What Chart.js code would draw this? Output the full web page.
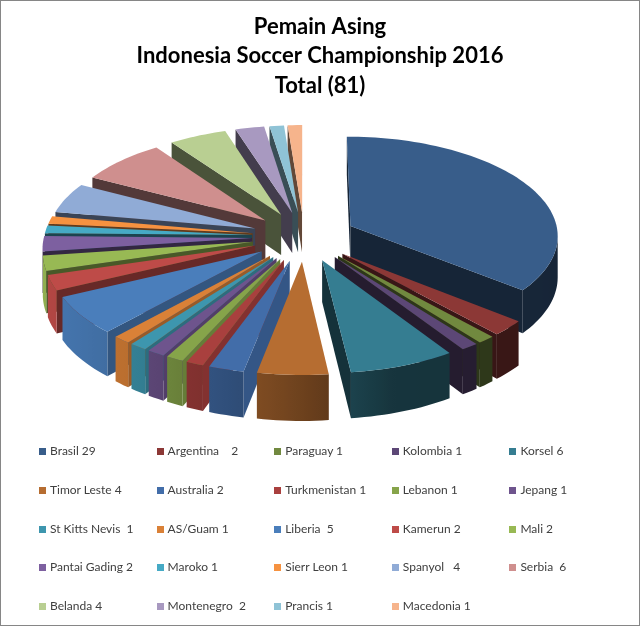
<!DOCTYPE html>
<html>
<head>
<meta charset="utf-8">
<title>Pemain Asing</title>
<script src="https://cdn.jsdelivr.net/npm/chart.js@4"></script>
<style>
body { margin: 0; background: #fff; }
#wrap { position: relative; width: 640px; height: 626px; overflow: hidden; }
#frame { position: absolute; left: 0; top: 0; width: 640px; height: 626px; box-sizing: border-box;
  border: 1px solid #868686; pointer-events: none; }
canvas { position: absolute; left: 0; top: 0; }
.item { position: absolute; font: 12px Lato, sans-serif; color: #404040; white-space: pre; line-height: 14px; }
.box { position: absolute; width: 7px; height: 7px; }
</style>
</head>
<body>
<div id="wrap">
<canvas id="myChart" width="640" height="626"></canvas>
<div id="legend"></div>
<div id="frame"></div>
</div>
<script>
const titleLines = ["Pemain Asing", "Indonesia Soccer Championship 2016", "Total (81)"];
const categories = ["Brasil", "Argentina", "Paraguay", "Kolombia", "Korsel", "Timor Leste", "Australia", "Turkmenistan",
  "Lebanon", "Jepang", "St Kitts Nevis", "AS/Guam", "Liberia", "Kamerun", "Mali", "Pantai Gading", "Maroko",
  "Sierr Leon", "Spanyol", "Serbia", "Belanda", "Montenegro", "Prancis", "Macedonia"];
const players = [29, 2, 1, 1, 6, 4, 2, 1, 1, 1, 1, 1, 5, 2, 2, 2, 1, 1, 4, 6, 4, 2, 1, 1];
// gap between name and number, the original legend is not consistent
const gaps = [" ", "    ", " ", " ", " ", " ", " ", " ", " ", " ", "  ", " ", "  ", " ", " ", " ", " ", " ", "   ", "  ", " ", "  ", " ", " "];
const colors = ["#385D8A", "#8C3836", "#71893F", "#5C4776", "#357D91", "#B66D31", "#426DA9", "#A9403E",
  "#86A44A", "#6E548D", "#3D96AE", "#DA8137", "#4A7EBB", "#BE4B48", "#98B954", "#7D60A0", "#46AAC5",
  "#F69240", "#90ABD6", "#CF8F8E", "#B9CF92", "#A899C0", "#8FC3D6", "#F6B48C"];

// view of the tilted pie
const cx = 304, cy = 236.5, tilt = 0.475, eye = 2400, depth = 41;

function project(x, y, z) {
  const s = eye / (eye - y);
  return [cx + x * s, cy + tilt * y * s + z * s];
}

function shade(hex, f) {
  const n = parseInt(hex.slice(1), 16);
  const c = [n >> 16, (n >> 8) & 255, n & 255].map(v => Math.round(v * f));
  return "rgb(" + c.join(",") + ")";
}

// outer wall gets lighter towards the left
function wallLight(nx) {
  const t = [[-1, 0.95], [-0.6, 0.85], [-0.2, 0.7], [0, 0.6], [0.3, 0.42], [1, 0.4]];
  for (let i = 1; i < t.length; i++) {
    if (nx <= t[i][0]) {
      return t[i - 1][1] + (nx - t[i - 1][0]) / (t[i][0] - t[i - 1][0]) * (t[i][1] - t[i - 1][1]);
    }
  }
  return 0.4;
}

function poly(ctx, pts, color) {
  ctx.beginPath();
  pts.forEach((p, i) => i ? ctx.lineTo(p[0], p[1]) : ctx.moveTo(p[0], p[1]));
  ctx.closePath();
  ctx.fillStyle = color;
  ctx.fill();
}

function cutFace(ctx, ax, ay, bx, by, sideX, sideY, color) {
  // only when the face looks at the viewer
  if (sideX * (0 - ax) + sideY * (eye - ay) <= 0) return;
  const light = Math.max(0.4, 0.35 + 0.45 * sideX);
  poly(ctx, [project(ax, ay, 0), project(bx, by, 0), project(bx, by, depth), project(ax, ay, depth)], shade(color, light));
}

function outerWall(ctx, angles, edge, color) {
  const upper = [], lower = [], lights = [];
  angles.forEach(a => {
    const p = edge(a);
    if (Math.cos(a) * (0 - p[0]) + Math.sin(a) * (eye - p[1]) <= 0) return;
    upper.push(project(p[0], p[1], 0));
    lower.push(project(p[0], p[1], depth));
    lights.push(wallLight(Math.cos(a)));
  });
  if (upper.length < 2) return;
  const xs = upper.map(p => p[0]);
  const x0 = Math.min(...xs), x1 = Math.max(...xs);
  const grad = ctx.createLinearGradient(x0, 0, x1, 0);
  xs.forEach((x, i) => grad.addColorStop((x - x0) / (x1 - x0), shade(color, lights[i])));
  poly(ctx, upper.concat(lower.reverse()), grad);
}

function drawSlice(ctx, arc, color) {
  const { startAngle, endAngle, outerRadius } = arc.getProps(["startAngle", "endAngle", "outerRadius"]);
  const mid = (startAngle + endAngle) / 2;
  const ox = arc.options.offset * Math.cos(mid), oy = arc.options.offset * Math.sin(mid);
  const edge = a => [ox + outerRadius * Math.cos(a), oy + outerRadius * Math.sin(a)];

  const s = edge(startAngle), e = edge(endAngle);
  cutFace(ctx, ox, oy, s[0], s[1], Math.sin(startAngle), -Math.cos(startAngle), color);
  cutFace(ctx, ox, oy, e[0], e[1], -Math.sin(endAngle), Math.cos(endAngle), color);

  const steps = Math.ceil((endAngle - startAngle) / 0.03);
  const angles = [];
  for (let i = 0; i <= steps; i++) angles.push(startAngle + (endAngle - startAngle) * i / steps);
  outerWall(ctx, angles, edge, color);
  poly(ctx, [project(ox, oy, 0)].concat(angles.map(a => project(...edge(a), 0))), color);
}

const pie3d = {
  id: "pie3d",
  // the library works out the angles, we only draw them tilted
  beforeDatasetDraw() { return false; },
  afterDatasetsDraw(chart) {
    const arcs = chart.getDatasetMeta(0).data.map((arc, i) => ({ arc, i }));
    arcs.sort((a, b) => Math.sin((a.arc.startAngle + a.arc.endAngle) / 2) - Math.sin((b.arc.startAngle + b.arc.endAngle) / 2));
    arcs.forEach(o => drawSlice(chart.ctx, o.arc, colors[o.i]));
  }
};

new Chart(document.getElementById("myChart"), {
  type: "pie",
  data: {
    labels: categories,
    datasets: [{ data: players, backgroundColor: colors, borderWidth: 0, offset: 52, radius: 208 }]
  },
  options: {
    responsive: false,
    animation: false,
    plugins: {
      legend: { display: false },
      tooltip: { enabled: false },
      title: {
        display: true,
        text: titleLines,
        color: "#000",
        font: { family: "Lato", size: 22, weight: "bold", lineHeight: 1.34 },
        padding: { top: 12, bottom: 0 }
      }
    }
  },
  plugins: [pie3d]
});

const legend = document.getElementById("legend");
categories.forEach((name, i) => {
  const col = i % 5, row = Math.floor(i / 5);
  const x = 39 + col * 117.6, y = 451 + row * 38.75;
  const box = document.createElement("div");
  box.className = "box";
  box.style.cssText = "left:" + x + "px;top:" + (y - 3) + "px;background:" + colors[i];
  const item = document.createElement("div");
  item.className = "item";
  item.style.cssText = "left:" + (x + 11) + "px;top:" + (y - 7) + "px";
  item.textContent = name + gaps[i] + players[i];
  legend.appendChild(box);
  legend.appendChild(item);
});
</script>
</body>
</html>
